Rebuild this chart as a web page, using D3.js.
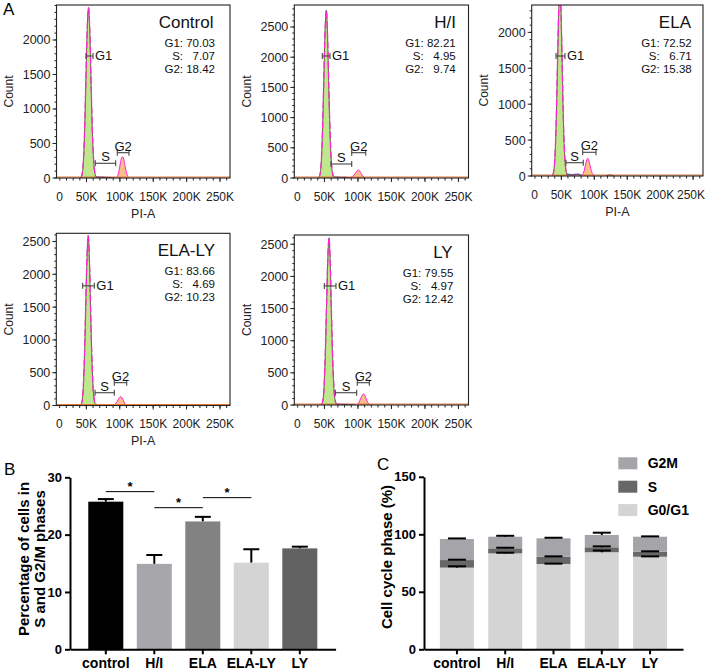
<!DOCTYPE html>
<html><head><meta charset="utf-8">
<script src="https://cdn.jsdelivr.net/npm/d3@7"></script>
<style>
body{margin:0;background:#fff}
svg{display:block}
text{font-family:"Liberation Sans",Arial,Helvetica,sans-serif}
.pre{white-space:pre}
</style>
</head><body>
<svg id="c" width="706" height="671"></svg>
<script>
// ================= DATA =================
// Panel A: flow cytometry histograms (x in K units of PI-A, y = count)
const histNames = ["Control", "H/I", "ELA", "ELA-LY", "LY"];
const statLabels = ["G1:", "S:", "G2:"];
const histStats = [
  ["70.03", "7.07", "18.42"],
  ["82.21", "4.95", "9.74"],
  ["72.52", "6.71", "15.38"],
  ["83.66", "4.69", "10.23"],
  ["79.55", "4.97", "12.42"]
];
const histYMax = [2507, 2864, 2381, 2625, 2644];
const histYTicks = [
  [0, 500, 1000, 1500, 2000],
  [0, 500, 1000, 1500, 2000, 2500],
  [0, 500, 1000, 1500, 2000],
  [0, 500, 1000, 1500, 2000, 2500],
  [0, 500, 1000, 1500, 2000, 2500]
];
const xTickValues = [0, 50, 100, 150, 200, 250];
const xTickLabels = ["0", "50K", "100K", "150K", "200K", "250K"];

const g1Control = [[41,0],[43,40],[45,200],[47,650],[49,1400],[51,2150],[53,2470],[55,2100],[57,1300],[59,600],[61,200],[63,50],[65,0]];
const g1HI      = [[41,0],[43,45],[45,220],[47,750],[49,1600],[51,2450],[52.8,2780],[54.5,2400],[56.5,1500],[58.5,700],[60.5,230],[62.5,60],[64.5,0]];
const g1ELA     = [[36,0],[38,45],[40,220],[42,700],[44,1500],[46,2300],[47.5,2650],[49.5,2300],[51.5,1450],[53.5,650],[55.5,220],[57.5,50],[59.5,0]];
const g1ELALY   = [[41,0],[43,40],[45,210],[47,700],[49,1500],[51,2280],[52.8,2590],[54.5,2250],[56.5,1400],[58.5,650],[60.5,210],[62.5,50],[64.5,0]];
const g1LY      = [[45,0],[47,40],[49,210],[51,700],[53,1500],[55,2280],[56.8,2600],[58.5,2250],[60.5,1400],[62.5,650],[64.5,210],[66.5,50],[68.5,0]];

const g2Control = [[94,0],[97,40],[99,120],[101,230],[103,300],[104.5,305],[106,260],[108,160],[110,70],[112,20],[114,0]];
const g2HI      = [[86,0],[90,15],[94,45],[97,95],[99.5,128],[101,132],[103,110],[105,70],[107,35],[109,12],[111,0]];
const g2ELA     = [[79,0],[82,20],[84.5,70],[86.5,150],[88.5,225],[90,246],[91.5,225],[93.5,150],[96,60],[98.5,15],[101,0]];
const g2ELALY   = [[90,0],[93,20],[96,60],[98.5,105],[100.5,130],[101.8,134],[103.5,115],[105.5,75],[107.5,35],[109.5,10],[111,0]];
const g2LY      = [[98,0],[100.5,25],[103,75],[105.5,135],[107.5,168],[108.5,171],[110,155],[112,105],[114,50],[116.5,15],[119,0]];

const sControl = [[58,0],[60,40],[63,25],[66,15],[70,12],[75,10],[80,8],[86,5],[92,0]];
const sHI      = [[56,0],[58,45],[60,30],[63,20],[66,15],[70,12],[76,10],[82,8],[88,0]];
const sELA     = [[52,0],[54,40],[57,30],[61,20],[66,18],[71,20],[76,25],[80,10],[84,0]];
const sELALY   = [[56,0],[58,40],[60,28],[63,18],[66,14],[72,10],[78,8],[84,5],[90,0]];
const sLY      = [[60,0],[62,40],[64,28],[67,18],[70,14],[76,10],[82,8],[88,5],[96,0]];

const g1Series = [g1Control, g1HI, g1ELA, g1ELALY, g1LY];
const g2Series = [g2Control, g2HI, g2ELA, g2ELALY, g2LY];
const sSeries  = [sControl, sHI, sELA, sELALY, sLY];
const extraELA = [[118,0],[121,12],[124,16],[127,10],[130,0]];

// gates: [xStartK, xEndK, yCount]
const g1Gates = [[49.2,59.7,1768],[46.8,58.3,2020],[41.9,55.5,1671],[44.5,61.9,1824],[49.8,67.2,1851]];
const sGates  = [[63.1,93.7,213],[59.8,90.7,232],[57,83.3,185],[63,91.8,195],[66.2,98.1,191]];
const g2Gates = [[96.1,113.6,367],[90.7,111.6,419],[82.4,102.6,330],[91.8,110.4,348],[99,117,347]];

// Panel B
const groups = ["control", "H/I", "ELA", "ELA-LY", "LY"];
const sg2mMean = [25.75, 14.9, 22.3, 15.1, 17.6];
const sg2mErr  = [0.45, 1.55, 0.8, 2.35, 0.3];
const bTicks = [0, 10, 20, 30];
const sigPairs = [[0, 1, 27.5], [1, 2, 24.7], [2, 3, 26.45]];

// Panel C
const phaseNames = ["G2M", "S", "G0/G1"];
const g0g1Mean = [71.0, 83.4, 74.2, 84.4, 80.5];
const sMean    = [6.6, 4.4, 6.3, 4.3, 4.4];
const g2mMean  = [18.3, 10.1, 16.0, 10.7, 13.0];
const g0g1Err  = [1.2, 0.6, 0.3, 1.5, 0.3];
const sErr     = [0.3, 0.5, 0.3, 0.8, 0.3];
const g2mErr   = [0.5, 0.8, 0.5, 2.0, 0.3];
const cTicks = [0, 50, 100, 150];

// ================= LAYOUT / STYLE =================
const W = 706;
const svg = d3.select("#c");
const panels = [
  {l:56.5,  r:230,   t:5,     b:178,   xLab:true,  tOff:16.5, sOff:15},
  {l:294.3, r:468.5, t:5,     b:178,   xLab:false, tOff:12.5, sOff:12.8},
  {l:531.7, r:703,   t:5,     b:176,   xLab:true,  tOff:12,   sOff:11.3},
  {l:56.3,  r:230,   t:233.3, b:405.5, xLab:true,  tOff:15,   sOff:15},
  {l:294.3, r:468.5, t:235,   b:405,   xLab:false, tOff:15.8, sOff:15.2}
];
const C_G1 = "#bfe78c", C_MAG = "#ff22d8", C_G2 = "#f9c08a", C_AX = "#222";

svg.append("text").attr("x", 3).attr("y", 15).attr("font-size", 17).text("A");

panels.forEach((p, i) => {
  const g = svg.append("g");
  const x = d3.scaleLinear().domain([5, 265]).range([p.l, p.r]);
  const y = d3.scaleLinear().domain([0, histYMax[i]]).range([p.b, p.t]);
  const cid = "clip" + i;
  svg.append("clipPath").attr("id", cid).append("rect")
    .attr("x", p.l).attr("y", p.t).attr("width", p.r - p.l).attr("height", p.b - p.t);
  const plot = g.append("g").attr("clip-path", `url(#${cid})`);
  const area = d3.area().x(d => x(d[0])).y0(y(0)).y1(d => y(d[1])).curve(d3.curveMonotoneX);
  const line = d3.line().x(d => x(d[0])).y(d => y(d[1])).curve(d3.curveMonotoneX);

  // S phase
  plot.append("path").datum(sSeries[i]).attr("d", area).attr("fill", "#5aa6c8").attr("opacity", 0.55);
  plot.append("path").datum(sSeries[i]).attr("d", line).attr("fill", "none").attr("stroke", "#1a2fd0").attr("stroke-width", 1.4);
  if (i === 2) plot.append("path").datum(extraELA).attr("d", line).attr("fill", "none").attr("stroke", "#333").attr("stroke-width", 1);
  // G1
  plot.append("path").datum(g1Series[i]).attr("d", area).attr("fill", C_G1);
  plot.append("path").datum(g1Series[i]).attr("d", line).attr("fill", "none").attr("stroke", "#4a5a28").attr("stroke-width", 0.9);
  plot.append("path").datum(g1Series[i]).attr("d", line).attr("fill", "none").attr("stroke", C_MAG).attr("stroke-width", 1.3).attr("stroke-dasharray", "7,3");
  // G2
  plot.append("path").datum(g2Series[i]).attr("d", area).attr("fill", C_G2);
  plot.append("path").datum(g2Series[i]).attr("d", line).attr("fill", "none").attr("stroke", C_MAG).attr("stroke-width", 1);
  // baseline model
  plot.append("line").attr("x1", p.l).attr("x2", p.r).attr("y1", y(0) - 1).attr("y2", y(0) - 1)
    .attr("stroke", "#f07a30").attr("stroke-width", 1.2);

  // frame
  g.append("rect").attr("x", p.l).attr("y", p.t).attr("width", p.r - p.l).attr("height", p.b - p.t)
    .attr("fill", "none").attr("stroke", C_AX).attr("stroke-width", 1.1);

  // y axis
  const minorY = d3.range(0, histYMax[i], 100);
  g.selectAll(null).data(minorY).join("line")
    .attr("x1", p.l).attr("x2", p.l - 2).attr("y1", d => y(d)).attr("y2", d => y(d)).attr("stroke", C_AX);
  g.selectAll(null).data(histYTicks[i]).join("line")
    .attr("x1", p.l).attr("x2", p.l - 4).attr("y1", d => y(d)).attr("y2", d => y(d)).attr("stroke", C_AX);
  g.selectAll(null).data(histYTicks[i]).join("text")
    .attr("x", p.l - 6).attr("y", d => y(d) + 4.5).attr("text-anchor", "end")
    .attr("font-size", 12.5).attr("fill", "#222").text(d => d);

  // x axis
  const minorX = d3.range(10, 265, 10);
  g.selectAll(null).data(minorX).join("line")
    .attr("x1", d => x(d)).attr("x2", d => x(d)).attr("y1", p.b).attr("y2", p.b + 2.5).attr("stroke", C_AX);
  g.selectAll(null).data(xTickValues.filter(v => v >= 5)).join("line")
    .attr("x1", d => x(d)).attr("x2", d => x(d)).attr("y1", p.b).attr("y2", p.b + 4).attr("stroke", C_AX);
  g.selectAll(null).data(xTickValues).join("text")
    .attr("x", (d) => Math.max(x(d), p.l + 3)).attr("y", p.b + 22.5).attr("text-anchor", "middle")
    .attr("font-size", 12).attr("fill", "#222").text((d, k) => xTickLabels[k])
    .each(function () {
      const bb = this.getBBox();
      if (bb.x + bb.width > W - 1) d3.select(this).attr("x", +d3.select(this).attr("x") - (bb.x + bb.width - (W - 1)));
    });
  if (p.xLab) g.append("text").attr("x", (p.l + p.r) / 2).attr("y", p.b + 39.5).attr("text-anchor", "middle")
    .attr("font-size", 12.5).attr("fill", "#222").text("PI-A");
  g.append("text").attr("transform", `translate(${p.l - 43.5},${(p.t + p.b) / 2}) rotate(-90)`)
    .attr("text-anchor", "middle").attr("font-size", 12).attr("fill", "#222").text("Count");

  // title & stats
  g.append("text").attr("x", p.r - p.tOff).attr("y", p.t + 22.8).attr("text-anchor", "end")
    .attr("font-size", 17).attr("fill", "#111").text(histNames[i]);
  histStats[i].forEach((v, k) => {
    const yy = p.t + 41.8 + k * 12.9;
    const pad = " ".repeat(1 + 2 * (5 - v.length));
    g.append("text").attr("class", "pre").attr("xml:space", "preserve")
      .attr("x", p.r - p.sOff).attr("y", yy).attr("text-anchor", "end")
      .attr("font-size", 11.5).attr("fill", "#111").text(statLabels[k] + pad + v);
  });

  // gates
  const drawGate = (gate, label, pos) => {
    const [a, b, c] = gate;
    const gy = y(c);
    const gg = g.append("g").attr("stroke", "#444").attr("stroke-width", 1.1);
    gg.append("line").attr("x1", x(a)).attr("x2", x(b)).attr("y1", gy).attr("y2", gy);
    gg.append("line").attr("x1", x(a)).attr("x2", x(a)).attr("y1", gy - 3).attr("y2", gy + 3);
    gg.append("line").attr("x1", x(b)).attr("x2", x(b)).attr("y1", gy - 3).attr("y2", gy + 3);
    if (pos === "right") {
      g.append("text").attr("x", x(b) + 2).attr("y", gy + 4.5).attr("font-size", 13).attr("fill", "#111").text(label);
    } else {
      g.append("text").attr("x", (x(a) + x(b)) / 2).attr("y", gy - 2).attr("text-anchor", "middle")
        .attr("font-size", 13).attr("fill", "#111").text(label);
    }
  };
  drawGate(g1Gates[i], "G1", "right");
  drawGate(sGates[i], "S", "top");
  drawGate(g2Gates[i], "G2", "top");
});

// ================= PANEL B =================
(function () {
  const g = svg.append("g");
  const x = d3.scaleBand().domain(groups).range([70, 335.6]).paddingInner(0.278).paddingOuter(0.377);
  const y = d3.scaleLinear().domain([0, 30]).range([649.3, 477.3]);
  const cols = ["#000000", "#a6a6ab", "#828282", "#d4d4d4", "#626262"];
  g.append("text").attr("x", 4).attr("y", 475).attr("font-size", 17).text("B");

  groups.forEach((gr, k) => {
    const cx = x(gr) + x.bandwidth() / 2;
    g.append("line").attr("x1", cx).attr("x2", cx).attr("y1", y(sg2mMean[k])).attr("y2", y(sg2mMean[k] + sg2mErr[k]))
      .attr("stroke", "#000").attr("stroke-width", 2);
    g.append("line").attr("x1", cx - 8).attr("x2", cx + 8).attr("y1", y(sg2mMean[k] + sg2mErr[k])).attr("y2", y(sg2mMean[k] + sg2mErr[k]))
      .attr("stroke", "#000").attr("stroke-width", 2);
  });
  g.selectAll(null).data(groups).join("rect")
    .attr("x", d => x(d)).attr("width", x.bandwidth())
    .attr("y", (d, k) => y(sg2mMean[k])).attr("height", (d, k) => y(0) - y(sg2mMean[k]))
    .attr("fill", (d, k) => cols[k]);

  sigPairs.forEach(([a, b, v]) => {
    const x1 = x(groups[a]) + x.bandwidth() / 2, x2 = x(groups[b]) + x.bandwidth() / 2;
    g.append("line").attr("x1", x1).attr("x2", x2).attr("y1", y(v)).attr("y2", y(v)).attr("stroke", "#000").attr("stroke-width", 1);
    g.append("text").attr("x", (x1 + x2) / 2).attr("y", y(v) - 1).attr("text-anchor", "middle")
      .attr("font-size", 13).attr("font-weight", "bold").text("*");
  });

  const ya = g.append("g").attr("transform", "translate(70,0)")
    .call(d3.axisLeft(y).tickValues(bTicks).tickSize(5).tickSizeOuter(0).tickPadding(3));
  ya.select(".domain").attr("stroke-width", 2);
  ya.selectAll(".tick line").attr("stroke-width", 2);
  ya.selectAll("text").attr("font-size", 13).attr("font-weight", "bold").attr("font-family", null).attr("fill", "#000");
  const xa = g.append("g").attr("transform", "translate(0,649.3)")
    .call(d3.axisBottom(x).tickSize(5).tickSizeOuter(0).tickPadding(4));
  xa.select(".domain").attr("stroke-width", 2);
  xa.selectAll(".tick line").attr("stroke-width", 2);
  xa.selectAll("text").attr("font-size", 14).attr("font-weight", "bold").attr("font-family", null).attr("fill", "#000");

  const t = g.append("text").attr("transform", "translate(29,559) rotate(-90)").attr("text-anchor", "middle")
    .attr("font-size", 15).attr("font-weight", "bold");
  t.append("tspan").attr("x", 0).attr("dy", 0).text("Percentage of cells in");
  t.append("tspan").attr("x", 0).attr("dy", 16).text("S and G2/M phases");
})();

// ================= PANEL C =================
(function () {
  const g = svg.append("g");
  const x = d3.scaleBand().domain(groups).range([424, 683]).paddingInner(0.296).paddingOuter(0.33);
  const y = d3.scaleLinear().domain([0, 150]).range([649.3, 476.8]);
  const cols = {"G0/G1": "#d4d4d4", "S": "#676767", "G2M": "#a4a4a9"};
  g.append("text").attr("x", 377).attr("y", 470).attr("font-size", 17).text("C");

  const stackRows = groups.map((gr, k) => ({group: gr, "G0/G1": g0g1Mean[k], "S": sMean[k], "G2M": g2mMean[k]}));
  const stacked = d3.stack().keys(["G0/G1", "S", "G2M"])(stackRows);
  const errs = {"G0/G1": g0g1Err, "S": sErr, "G2M": g2mErr};
  stacked.forEach(layer => {
    g.selectAll(null).data(layer).join("rect")
      .attr("x", d => x(d.data.group)).attr("width", x.bandwidth())
      .attr("y", d => y(d[1])).attr("height", d => y(d[0]) - y(d[1]))
      .attr("fill", cols[layer.key]);
  });
  stacked.forEach(layer => {
    layer.forEach((d, k) => {
      const cx = x(d.data.group) + x.bandwidth() / 2;
      const top = d[1], e = errs[layer.key][k];
      g.append("line").attr("x1", cx).attr("x2", cx).attr("y1", y(top)).attr("y2", y(top + e)).attr("stroke", "#000").attr("stroke-width", 2);
      g.append("line").attr("x1", cx - 9).attr("x2", cx + 9).attr("y1", y(top + e)).attr("y2", y(top + e)).attr("stroke", "#000").attr("stroke-width", 2);
    });
  });

  const ya = g.append("g").attr("transform", "translate(424,0)")
    .call(d3.axisLeft(y).tickValues(cTicks).tickSize(5).tickSizeOuter(0).tickPadding(3));
  ya.select(".domain").attr("stroke-width", 2);
  ya.selectAll(".tick line").attr("stroke-width", 2);
  ya.selectAll("text").attr("font-size", 13).attr("font-weight", "bold").attr("font-family", null).attr("fill", "#000");
  const xa = g.append("g").attr("transform", "translate(0,649.3)")
    .call(d3.axisBottom(x).tickSize(5).tickSizeOuter(0).tickPadding(4));
  xa.select(".domain").attr("stroke-width", 2);
  xa.selectAll(".tick line").attr("stroke-width", 2);
  xa.selectAll("text").attr("font-size", 14).attr("font-weight", "bold").attr("font-family", null).attr("fill", "#000");

  g.append("text").attr("transform", "translate(392,557) rotate(-90)").attr("text-anchor", "middle")
    .attr("font-size", 15).attr("font-weight", "bold").text("Cell cycle phase (%)");

  phaseNames.forEach((nm, k) => {
    const cy = 463.3 + k * 23.4;
    g.append("rect").attr("x", 618.3).attr("y", cy - 6).attr("width", 19).attr("height", 12).attr("fill", cols[nm]);
    g.append("text").attr("x", 647.7).attr("y", cy + 5).attr("font-size", 14).attr("font-weight", "bold").text(nm);
  });
})();
</script>
</body></html>
